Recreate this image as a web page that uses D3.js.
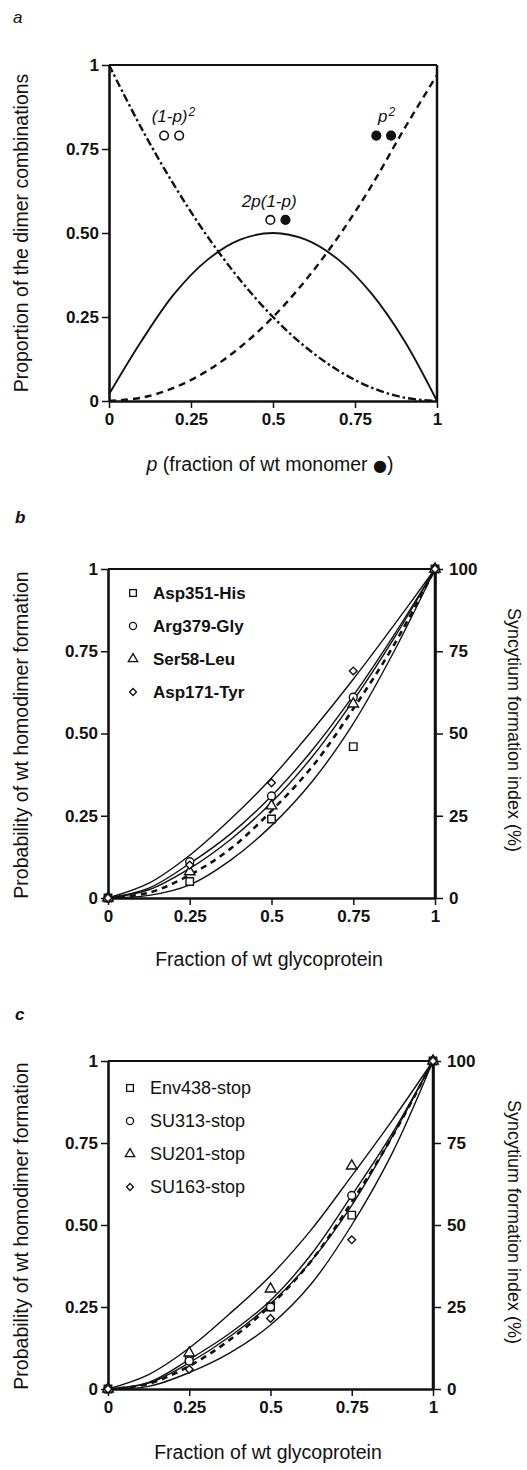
<!DOCTYPE html>
<html lang="en">
<head>
<meta charset="UTF-8">
<title>Dimer combinations</title>
<script src="https://d3js.org/d3.v7.min.js"></script>
<style>
  body { margin: 0; background: #fff; }
  svg text { font-family: "Liberation Sans", Arial, sans-serif; fill: #111; }
</style>
</head>
<body>
<svg id="fig" width="527" height="1470"></svg>
<script>
// ---- panel a: proportions at p = 0, 0.1 ... 1
let pVals = [0, 0.1, 0.2, 0.3, 0.4, 0.5, 0.6, 0.7, 0.8, 0.9, 1];
let mutHomo = [1, 0.81, 0.64, 0.49, 0.36, 0.25, 0.16, 0.09, 0.04, 0.01, 0];
let hetero = [0.02, 0.18, 0.32, 0.42, 0.48, 0.5, 0.48, 0.42, 0.32, 0.18, 0];
let wtHomo = [0, 0.01, 0.04, 0.09, 0.16, 0.25, 0.36, 0.49, 0.64, 0.81, 0.97];

// ticks
let fracTicks = [0, 0.25, 0.5, 0.75, 1];
let xTickLabels = ["0", "0.25", "0.5", "0.75", "1"];
let yTickLabels = ["0", "0.25", "0.50", "0.75", "1"];
let pctTicks = [0, 25, 50, 75, 100];

// ---- fitted curves (b, c), read at these fractions
let fitX = [0, 0.125, 0.25, 0.375, 0.5, 0.625, 0.75, 0.875, 1];
let bFitUpper = [0, 0.045, 0.13, 0.24, 0.365, 0.51, 0.665, 0.83, 1];
let bFitArg = [0, 0.03, 0.105, 0.195, 0.31, 0.45, 0.615, 0.80, 1];
let bFitSer = [0, 0.025, 0.09, 0.178, 0.29, 0.43, 0.60, 0.79, 1];
let bFitLower = [0, 0.008, 0.04, 0.115, 0.22, 0.355, 0.53, 0.75, 1];
let bDashed = [0, 0.016, 0.07, 0.15, 0.265, 0.40, 0.575, 0.77, 1];

let cFitUpper = [0, 0.044, 0.125, 0.23, 0.345, 0.485, 0.65, 0.82, 1];
let cFitSU313 = [0, 0.02, 0.09, 0.17, 0.27, 0.41, 0.59, 0.78, 1];
let cFitEnv = [0, 0.018, 0.08, 0.16, 0.26, 0.39, 0.56, 0.77, 1];
let cFitLower = [0, 0.008, 0.05, 0.11, 0.195, 0.32, 0.50, 0.72, 1];
let cDashed = [0, 0.016, 0.07, 0.15, 0.255, 0.39, 0.57, 0.77, 1];

// ---- measured points at fractions 0, 0.25, 0.5, 0.75, 1
let bNames = ["Asp351-His", "Arg379-Gly", "Ser58-Leu", "Asp171-Tyr"];
let bAsp351His = [0, 0.05, 0.24, 0.46, 1];
let bArg379Gly = [0, 0.11, 0.31, 0.61, 1];
let bSer58Leu = [0, 0.08, 0.28, 0.59, 1];
let bAsp171Tyr = [0, 0.10, 0.35, 0.69, 1];

let cNames = ["Env438-stop", "SU313-stop", "SU201-stop", "SU163-stop"];
let cEnv438 = [0, 0.09, 0.25, 0.53, 1];
let cSU313 = [0, 0.085, 0.25, 0.59, 1];
let cSU201 = [0, 0.11, 0.305, 0.68, 1];
let cSU163 = [0, 0.06, 0.215, 0.455, 1];

let svg = d3.select("#fig");
// diamond = square turned 45 degrees
let symbols = [d3.symbolSquare, d3.symbolCircle, d3.symbolTriangle, d3.symbolSquare];
let symRot = [0, 0, 0, 45];
let symSizes = [56, 50, 48, 30];

// box + axes for a panel
function drawFrame(x, y, withRight) {
    let g = svg.append("g");
    // top and right border
    g.append("line").attr("x1", x(0)).attr("x2", x(1)).attr("y1", y(1)).attr("y2", y(1))
        .attr("stroke", "#111").attr("stroke-width", 2.2);
    g.append("line").attr("x1", x(1)).attr("x2", x(1)).attr("y1", y(0)).attr("y2", y(1))
        .attr("stroke", "#111").attr("stroke-width", 2.5);

    let left = g.append("g").attr("transform", `translate(${x(0)},0)`)
        .call(d3.axisLeft(y).tickValues(fracTicks).tickFormat((d, i) => yTickLabels[i])
            .tickSize(7).tickSizeOuter(0).tickPadding(3));
    let bottom = g.append("g").attr("transform", `translate(0,${y(0)})`)
        .call(d3.axisBottom(x).tickValues(fracTicks).tickFormat((d, i) => xTickLabels[i])
            .tickSize(7).tickSizeOuter(0).tickPadding(5));
    let axes = [left, bottom];
    if (withRight) {
        let yPct = d3.scaleLinear().domain([0, 100]).range(y.range());
        let right = g.append("g").attr("transform", `translate(${x(1)},0)`)
            .call(d3.axisRight(yPct).tickValues(pctTicks).tickSize(8).tickSizeOuter(0).tickPadding(6));
        axes.push(right);
    }
    axes.forEach(a => {
        a.select(".domain").attr("stroke", "#111").attr("stroke-width", 2.6);
        a.selectAll(".tick line").attr("stroke", "#111").attr("stroke-width", 1.5);
        a.selectAll(".tick text").attr("font-size", 17).attr("font-weight", "bold")
            .attr("font-family", "'Liberation Sans', Arial, sans-serif").attr("fill", "#111");
    });
}

function curve(x, y, xs, vals, opts) {
    let line = d3.line().x((d, i) => x(xs[i])).y(d => y(d)).curve(d3.curveCatmullRom.alpha(0.5));
    svg.append("path").datum(vals).attr("d", line)
        .attr("fill", "none").attr("stroke", "#111")
        .attr("stroke-width", opts.width || 1.4)
        .attr("stroke-dasharray", opts.dash || null);
}

function points(x, y, vals, k) {
    svg.append("g").selectAll("path").data(vals).join("path")
        .attr("transform", (d, i) => `translate(${x(fracTicks[i])},${y(d)}) rotate(${symRot[k]})`)
        .attr("d", d3.symbol().type(symbols[k]).size(symSizes[k]))
        .attr("fill", "#fff").attr("stroke", "#111").attr("stroke-width", 1.4);
}

function legend(x0, y0, names, bold, size) {
    names.forEach((n, k) => {
        svg.append("path").attr("transform", `translate(${x0},${y0 + k * 33}) rotate(${symRot[k]})`)
            .attr("d", d3.symbol().type(symbols[k]).size(symSizes[k] * 0.8))
            .attr("fill", "#fff").attr("stroke", "#111").attr("stroke-width", 1.3);
        svg.append("text").attr("x", x0 + 20).attr("y", y0 + k * 33 + 6)
            .attr("font-size", size).attr("font-weight", bold ? "bold" : "normal").text(n);
    });
}

function yTitle(xpos, ycen, txt, rot, size) {
    svg.append("text").attr("transform", `translate(${xpos},${ycen}) rotate(${rot})`)
        .attr("text-anchor", "middle").attr("font-size", size || 19.5).text(txt);
}

// ================= panel a
let xa = d3.scaleLinear().domain([0, 1]).range([109, 437]);
let ya = d3.scaleLinear().domain([0, 1]).range([401, 65]);

svg.append("text").attr("x", 13).attr("y", 23).attr("font-size", 17)
    .attr("font-style", "italic").text("a");

curve(xa, ya, pVals, mutHomo, {width: 2.4, dash: "8,3,2.5,3"});
curve(xa, ya, pVals, wtHomo, {width: 2.4, dash: "7,5"});
curve(xa, ya, pVals, hetero, {width: 1.9});
drawFrame(xa, ya, false);

// labels with the dimer symbols
let aLab = svg.append("g").attr("font-size", 17).attr("font-style", "italic");
let t1 = aLab.append("text").attr("x", xa(0.13)).attr("y", ya(0.83));
t1.append("tspan").text("(1-p)");
t1.append("tspan").attr("font-size", 12).attr("dy", -6).attr("dx", 1).text("2");
let t2 = aLab.append("text").attr("x", xa(0.82)).attr("y", ya(0.83));
t2.append("tspan").text("p");
t2.append("tspan").attr("font-size", 12).attr("dy", -6).attr("dx", 1).text("2");
aLab.append("text").attr("x", xa(0.405)).attr("y", ya(0.577)).text("2p(1-p)");

let dots = [[0.168, 0.79, false], [0.214, 0.79, false], [0.815, 0.79, true], [0.86, 0.79, true],
            [0.492, 0.539, false], [0.538, 0.539, true]];
svg.append("g").selectAll("circle").data(dots).join("circle")
    .attr("cx", d => xa(d[0])).attr("cy", d => ya(d[1])).attr("r", 4.3)
    .attr("fill", d => d[2] ? "#111" : "#fff").attr("stroke", "#111").attr("stroke-width", 1.6);

yTitle(28, 233, "Proportion of the dimer combinations", -90);
let xt = svg.append("text").attr("x", 270).attr("y", 471).attr("text-anchor", "middle")
    .attr("font-size", 19.5);
xt.append("tspan").attr("font-style", "italic").text("p");
xt.append("tspan").text(" (fraction of wt monomer ");
xt.append("tspan").attr("font-family", "DejaVu Sans").attr("font-size", 16).text("\u25CF");
xt.append("tspan").text(")");

// ================= panel b
let xb = d3.scaleLinear().domain([0, 1]).range([108, 435]);
let yb = d3.scaleLinear().domain([0, 1]).range([898, 569]);

svg.append("text").attr("x", 15).attr("y", 523).attr("font-size", 17)
    .attr("font-style", "italic").attr("font-weight", "bold").text("b");

curve(xb, yb, fitX, bFitUpper, {});
curve(xb, yb, fitX, bFitArg, {});
curve(xb, yb, fitX, bFitSer, {});
curve(xb, yb, fitX, bFitLower, {});
curve(xb, yb, fitX, bDashed, {width: 2.6, dash: "6,5"});
drawFrame(xb, yb, true);
[bAsp351His, bArg379Gly, bSer58Leu, bAsp171Tyr].forEach((s, k) => points(xb, yb, s, k));
legend(133, 593, bNames, true, 17);

yTitle(28, 735, "Probability of wt homodimer formation", -90);
yTitle(508, 730, "Syncytium formation index (%)", 90, 18);
svg.append("text").attr("x", 269).attr("y", 966).attr("text-anchor", "middle")
    .attr("font-size", 19.5).text("Fraction of wt glycoprotein");

// ================= panel c
let xc = d3.scaleLinear().domain([0, 1]).range([108, 433]);
let yc = d3.scaleLinear().domain([0, 1]).range([1389, 1061]);

svg.append("text").attr("x", 15).attr("y", 1020).attr("font-size", 17)
    .attr("font-style", "italic").attr("font-weight", "bold").text("c");

curve(xc, yc, fitX, cFitUpper, {});
curve(xc, yc, fitX, cFitSU313, {});
curve(xc, yc, fitX, cFitEnv, {});
curve(xc, yc, fitX, cFitLower, {});
curve(xc, yc, fitX, cDashed, {width: 2.6, dash: "6,5"});
drawFrame(xc, yc, true);
[cEnv438, cSU313, cSU201, cSU163].forEach((s, k) => points(xc, yc, s, k));
legend(130, 1088, cNames, false, 18);

yTitle(28, 1226, "Probability of wt homodimer formation", -90);
yTitle(508, 1222, "Syncytium formation index (%)", 90, 18);
svg.append("text").attr("x", 268).attr("y", 1459).attr("text-anchor", "middle")
    .attr("font-size", 19.5).text("Fraction of wt glycoprotein");
</script>
</body>
</html>
